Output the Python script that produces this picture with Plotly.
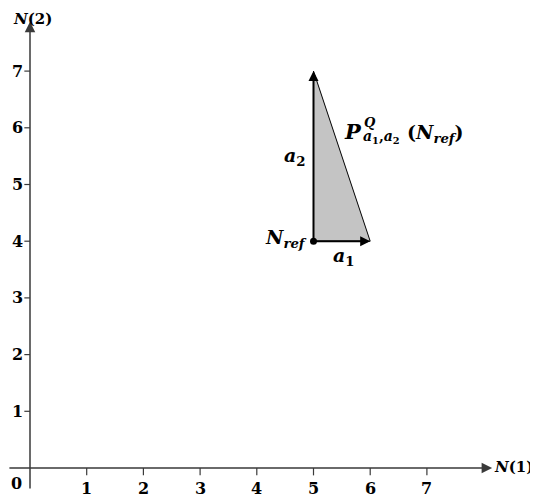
import plotly.graph_objects as go

# ---- data ----
x_ticks = [1, 2, 3, 4, 5, 6, 7]
y_ticks = [1, 2, 3, 4, 5, 6, 7]
tick_labels_x = ["1", "2", "3", "4", "5", "6", "7"]
tick_labels_y = ["1", "2", "3", "4", "5", "6", "7"]
n_ref = [5, 4]
a1 = 1
a2 = 3
tri_x = [n_ref[0], n_ref[0], n_ref[0] + a1]
tri_y = [n_ref[1], n_ref[1] + a2, n_ref[1]]

FONT = "DejaVu Serif"
LC = "#3a3a3a"

fig = go.Figure()

# filled triangle
fig.add_trace(go.Scatter(x=tri_x + [tri_x[0]], y=tri_y + [tri_y[0]], mode="lines",
                         fill="toself", fillcolor="#c4c4c4",
                         line=dict(color="black", width=1), hoverinfo="skip"))
# reference point
fig.add_trace(go.Scatter(x=[n_ref[0]], y=[n_ref[1]], mode="markers",
                         marker=dict(color="black", size=7), hoverinfo="skip"))

ann = []
def arrow(x0, y0, x1, y1, color, width, size):
    ann.append(dict(x=x1, y=y1, ax=x0, ay=y0, xref="x", yref="y", axref="x", ayref="y",
                    showarrow=True, arrowhead=2, arrowsize=size, arrowwidth=width,
                    arrowcolor=color, text=""))

# axes
arrow(-0.39, 0, 8.15, 0, LC, 1.5, 1.4)
arrow(0, -0.39, 0, 7.87, LC, 1.5, 1.4)
# vectors
arrow(n_ref[0], n_ref[1], n_ref[0], n_ref[1] + a2, "black", 2, 1)
arrow(n_ref[0], n_ref[1], n_ref[0] + a1, n_ref[1], "black", 2, 1)

shapes = []
for t in x_ticks:
    shapes.append(dict(type="line", xref="x", yref="y", x0=t, x1=t, y0=0, y1=-0.13,
                       line=dict(color=LC, width=1.2)))
for t in y_ticks:
    shapes.append(dict(type="line", xref="x", yref="y", x0=0, x1=-0.1, y0=t, y1=t,
                       line=dict(color=LC, width=1.2)))

tf = dict(family=FONT, size=16, color="black")
for t, lab in zip(x_ticks, tick_labels_x):
    ann.append(dict(x=t, y=-0.15, xref="x", yref="y", text="<b>" + lab + "</b>",
                    showarrow=False, yanchor="top", font=tf))
for t, lab in zip(y_ticks, tick_labels_y):
    ann.append(dict(x=-0.08, y=t, xref="x", yref="y", text="<b>" + lab + "</b>",
                    showarrow=False, xanchor="right", font=tf))
ann.append(dict(x=-0.1, y=-0.27, xref="x", yref="y", text="<b>0</b>",
                showarrow=False, xanchor="right", yanchor="middle", font=tf))

ann.append(dict(x=8.16, y=0.02, xref="x", yref="y", text="<b><i>N</i>(1)</b>",
                showarrow=False, xanchor="left", borderpad=0,
                font=dict(family=FONT, size=15, color="black")))
ann.append(dict(x=0.04, y=8.09, xref="x", yref="y", text="<b><i>N</i>(2)</b>",
                showarrow=False, yanchor="top", borderpad=0,
                font=dict(family=FONT, size=15, color="black")))

mf = dict(family=FONT, size=19, color="black")
ann.append(dict(x=4.9, y=5.5, xref="x", yref="y", text="<b><i>a</i><sub>2</sub></b>",
                showarrow=False, xanchor="right", font=mf))
ann.append(dict(x=5.54, y=3.98, xref="x", yref="y", text="<b><i>a</i><sub>1</sub></b>",
                showarrow=False, yanchor="top", font=mf))
ann.append(dict(x=4.92, y=4.04, xref="x", yref="y", text="<b><i>N</i><sub><i>ref</i></sub></b>",
                showarrow=False, xanchor="right", font=mf))

# P^Q_{a1,a2}(N_ref)
ann.append(dict(x=5.5, y=5.94, xref="x", yref="y", text="<b><i>P</i></b>",
                showarrow=False, xanchor="left", font=dict(family=FONT, size=21, color="black")))
ann.append(dict(x=6.0, y=6.1, xref="x", yref="y", text="<b><i>Q</i></b>",
                showarrow=False, font=dict(family=FONT, size=13, color="black")))
ann.append(dict(x=5.84, y=5.83, xref="x", yref="y",
                text="<b><i>a</i><sub>1</sub>,<i>a</i><sub>2</sub></b>",
                showarrow=False, xanchor="left", font=dict(family=FONT, size=14, color="black")))
ann.append(dict(x=6.62, y=5.9, xref="x", yref="y", text="<b>(<i>N</i><sub><i>ref</i></sub>)</b>",
                showarrow=False, xanchor="left", font=dict(family=FONT, size=19, color="black")))

# page body has an 8px margin: origin at page (30, 468) -> figure (22, 460)
s = 56.7
W, H = 530, 489
ox, oy = 22, 460
fig.update_layout(
    width=W, height=H, margin=dict(l=0, r=0, t=0, b=0),
    paper_bgcolor="white", plot_bgcolor="white", showlegend=False,
    xaxis=dict(range=[-ox / s, (W - ox) / s], visible=False, fixedrange=True),
    yaxis=dict(range=[-(H - oy) / s, oy / s], visible=False, fixedrange=True),
    annotations=ann, shapes=shapes,
)
fig.write_html("out.html")
